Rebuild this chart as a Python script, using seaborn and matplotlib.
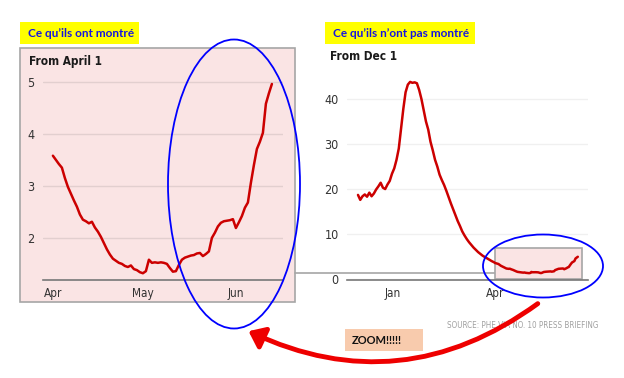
import numpy as np
import pandas as pd
import matplotlib
matplotlib.use("Agg")
import matplotlib.pyplot as plt
import matplotlib.dates as mdates
from matplotlib.patches import Rectangle, Ellipse, FancyArrowPatch
from matplotlib.lines import Line2D
import seaborn as sns

# --- data (cases) ---
# winter part, every 2 days from 1 Dec
winter_start = "2020-12-01"
winter_values = [18.7, 17.6, 18.4, 18.8, 18.3, 19.2, 18.4, 19.0, 19.9, 20.6,
                 21.4, 20.3, 20.0, 21.0, 21.8, 23.4, 24.6, 26.5, 29.0, 33.5,
                 37.8, 41.5, 43.2, 43.8, 43.6, 43.7, 43.5, 42.0, 40.0, 37.5,
                 35.0, 33.2, 30.5, 28.6, 26.5, 25.0, 23.2, 22.0, 20.9, 19.6,
                 18.2, 16.8, 15.5, 14.2, 12.9, 11.8, 10.6, 9.7, 8.9, 8.2,
                 7.6, 7.0, 6.5, 6.0, 5.6, 5.2, 4.9, 4.6, 4.3, 4.0, 3.75]
# spring part, daily from 1 Apr
spring_start = "2021-04-01"
spring_values = [3.58, 3.50, 3.42, 3.35, 3.15, 2.98, 2.85, 2.72, 2.60, 2.45,
                 2.35, 2.32, 2.28, 2.31, 2.20, 2.12, 2.02, 1.90, 1.78, 1.68,
                 1.60, 1.56, 1.52, 1.50, 1.46, 1.44, 1.47, 1.40, 1.38, 1.34,
                 1.32, 1.36, 1.58, 1.52, 1.53, 1.52, 1.53, 1.52, 1.50, 1.42,
                 1.35, 1.36, 1.48, 1.58, 1.62, 1.64, 1.66, 1.67, 1.70, 1.71,
                 1.65, 1.69, 1.74, 2.00, 2.10, 2.22, 2.29, 2.32, 2.33, 2.34,
                 2.36, 2.19, 2.30, 2.42, 2.58, 2.68, 3.06, 3.40, 3.71, 3.85,
                 4.02, 4.58, 4.78, 4.96]

left_yticks = [2, 3, 4, 5]
right_yticks = [0, 10, 20, 30, 40]
left_xticks = ["2021-04-01", "2021-05-01", "2021-06-01"]
left_xlabels = ["Apr", "May", "Jun"]
right_xticks = ["2021-01-01", "2021-04-01"]
right_xlabels = ["Jan", "Apr"]

winter = pd.DataFrame({"date": pd.date_range(winter_start, periods=len(winter_values), freq="2D"),
                       "cases": winter_values})
spring = pd.DataFrame({"date": pd.date_range(spring_start, periods=len(spring_values), freq="D"),
                       "cases": spring_values})
full = pd.concat([winter, spring], ignore_index=True)

W, H = 624, 378
RED = "#CC0000"


def fx(x):
    return x / W


def fy(y):
    return 1 - y / H


def ax_rect(x0, y0, x1, y1):
    return [fx(x0), fy(y1), (x1 - x0) / W, (y1 - y0) / H]


sns.set_theme(style="white")
plt.rcParams["font.family"] = ["DejaVu Sans"]
plt.rcParams["font.stretch"] = "condensed"

fig = plt.figure(figsize=(W / 100, H / 100), dpi=100)
fig.patch.set_facecolor("white")

# pink panel behind left chart
fig.patches.append(Rectangle((fx(20), fy(302)), 275 / W, 254 / H, transform=fig.transFigure,
                             facecolor="#FAE4E4", edgecolor="#A6A6A6", lw=1.2, zorder=0))

# --- left chart ---
axL = fig.add_axes(ax_rect(43, 72, 283, 280))
axL.set_zorder(3)
axL.patch.set_alpha(0)
sns.lineplot(data=spring, x="date", y="cases", color=RED, lw=1.8, ax=axL)
axL.set_xlim(pd.Timestamp("2021-04-01") - pd.Timedelta(days=3.3),
             pd.Timestamp("2021-04-01") + pd.Timedelta(days=76.7))
axL.set_ylim(1.19, 5.19)
axL.set_yticks(left_yticks)
axL.set_xticks(pd.to_datetime(left_xticks))
axL.set_xticklabels(left_xlabels)
axL.grid(axis="y", color="#E2CFCF", lw=1)
axL.set_xlabel("")
axL.set_ylabel("")

# --- right chart ---
axR = fig.add_axes(ax_rect(347, 72, 588, 280))
axR.set_zorder(3)
axR.patch.set_alpha(0)
d0 = pd.Timestamp("2020-12-01")
axR.set_xlim(d0 - pd.Timedelta(days=9.7), d0 + pd.Timedelta(days=203))
axR.set_ylim(-0.2, 46)
axR.add_patch(Rectangle((mdates.date2num(pd.Timestamp("2021-04-01")), 0),
                        77, 6.9, facecolor="#FAE4E4", edgecolor="#A6A6A6", lw=1.2, zorder=1))
sns.lineplot(data=full, x="date", y="cases", color=RED, lw=1.8, ax=axR, zorder=3)
axR.set_yticks(right_yticks)
axR.set_xticks(pd.to_datetime(right_xticks))
axR.set_xticklabels(right_xlabels)
axR.grid(axis="y", color="#F0F0F0", lw=1)
axR.set_xlabel("")
axR.set_ylabel("")

for ax in (axL, axR):
    for s in ("top", "right", "left"):
        ax.spines[s].set_visible(False)
    ax.spines["bottom"].set_color("#777777")
    ax.spines["bottom"].set_linewidth(1.2)
    ax.tick_params(axis="x", length=3, color="#777777", labelsize=8.5, labelcolor="#333333", pad=2)
    ax.tick_params(axis="y", length=0, labelsize=9, labelcolor="#333333", pad=6)
    ax.set_axisbelow(True)

# titles on the charts
fig.text(fx(29), fy(61), "From April 1", fontsize=8.5, fontweight="bold", color="#1A1A1A",
         va="center", ha="left")
fig.text(fx(330), fy(57), "From Dec 1", fontsize=8.5, fontweight="bold", color="#1A1A1A",
         va="center", ha="left")

# yellow labels
for x0, x1, label in [(20, 139, "Ce qu’ils ont montré"), (325, 475, "Ce qu’ils n’ont pas montré")]:
    fig.patches.append(Rectangle((fx(x0), fy(44)), (x1 - x0) / W, 22 / H, transform=fig.transFigure,
                                 facecolor="#FFFF00", edgecolor="none", zorder=5))
    fig.text(fx(x0 + 8), fy(33.5), label, fontsize=8.5, fontweight="bold", color="#1515E0",
             family=["Lato", "DejaVu Sans"], stretch="normal", va="center", ha="left", zorder=6)

# connecting line between panels
fig.lines.append(Line2D([fx(295), fx(495)], [fy(273), fy(273)], transform=fig.transFigure,
                        color="#A6A6A6", lw=1.2, zorder=2))

# source
fig.text(fx(447), fy(326), "SOURCE: PHE VIA NO. 10 PRESS BRIEFING", fontsize=5.8,
         color="#A0A0A0", va="center", ha="left")

# blue ellipses
fig.patches.append(Ellipse((fx(234), fy(184)), 132 / W, 289 / H, transform=fig.transFigure,
                           facecolor="none", edgecolor="#0000FF", lw=1.3, zorder=7))
fig.patches.append(Ellipse((fx(543), fy(266)), 120 / W, 63 / H, transform=fig.transFigure,
                           facecolor="none", edgecolor="#0000FF", lw=1.3, zorder=7))

# zoom box
fig.patches.append(Rectangle((fx(345), fy(351)), 78 / W, 22 / H, transform=fig.transFigure,
                             facecolor="#F8CBAD", edgecolor="none", zorder=5))
fig.text(fx(352), fy(340), "ZOOM!!!!!", fontsize=8, fontweight="bold", color="#111111",
         family=["Lato", "DejaVu Sans"], stretch="normal", va="center", ha="left", zorder=6)

# red curved arrow
arrow = FancyArrowPatch((fx(540), fy(302)), (fx(246), fy(330)), transform=fig.transFigure,
                        connectionstyle="arc3,rad=-0.3", arrowstyle="-|>,head_length=9,head_width=7",
                        color="#EE0000", lw=3.5, mutation_scale=1, zorder=8)
fig.patches.append(arrow)

fig.savefig("out.png", dpi=100)
